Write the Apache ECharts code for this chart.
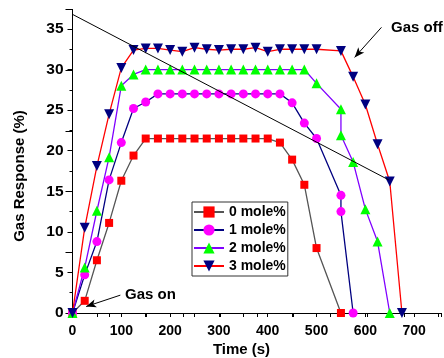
<!DOCTYPE html>
<html>
<head>
<meta charset="utf-8">
<script src="https://cdn.jsdelivr.net/npm/echarts@6/dist/echarts.min.js"></script>
<style>
html,body{margin:0;padding:0;background:#fff;}
#c{width:444px;height:358px;}
</style>
</head>
<body>
<div id="c"></div>
<script>
// Data (time in s, gas response in %)
const seriesNames = ['0 mole%', '1 mole%', '2 mole%', '3 mole%'];
const t0 = [0,25,50,75,100,125,150,175,200,225,250,275,300,325,350,375,400,425,450,475,500,550];
const v0 = [0,1.5,6.5,11.1,16.3,19.4,21.5,21.5,21.5,21.5,21.5,21.5,21.5,21.5,21.5,21.5,21.5,21.0,18.9,15.8,8.0,0];
const t1 = [0,25,50,75,100,125,150,175,200,225,250,275,300,325,350,375,400,425,450,475,500,550,550,575];
const v1 = [0,4.7,8.8,16.4,21.0,25.2,26.0,27,27,27,27,27,27,27,27,27,27,27,25.9,23.4,21.5,14.5,12.5,0];
const t2 = [0,25,50,75,100,125,150,175,200,225,250,275,300,325,350,375,400,425,450,475,500,550,550,575,600,625,650];
const v2 = [0,5.6,12.6,19.2,28.0,29.4,30,30,30,30,30,30,30,30,30,30,30,30,30,30,28.3,25.1,21.9,18.6,12.8,8.8,0];
const t3 = [0,25,50,75,100,125,150,175,200,225,250,275,300,325,350,375,400,425,450,475,500,550,575,600,625,650,675];
const v3 = [0,10.5,18.1,24.5,30.2,32.4,32.6,32.6,32.4,32.2,32.7,32.5,32.4,32.5,32.5,32.7,32.2,32.5,32.5,32.5,32.5,32.3,29.1,25.7,20.8,16.2,0];
// guide line (start / end)
const guideT = [0, 648];
const guideV = [36.8, 16.4];
// annotation arrows [tailT, tailV, headT, headV]
const gasOnArrow = [98, 2.2, 28, 0.8];
const gasOffArrow = [633, 35.2, 578, 31.5];
const xTicks = {min: 0, max: 755, interval: 100};
const yTicks = {min: 0, max: 37.4, interval: 5};

const zip = (t, v) => t.map((x, i) => [x, v[i]]);

const chart = echarts.init(document.getElementById('c'), null, {renderer: 'canvas'});
const FONT = '"Liberation Sans", Arial, sans-serif';

function mk(name, t, v, lineColor, symColor, symbol, size, rot) {
  return {
    name, type: 'line', data: zip(t, v),
    symbol, symbolSize: size, symbolRotate: rot || 0,
    showAllSymbol: true,
    lineStyle: {color: lineColor, width: 1.3},
    itemStyle: {color: symColor, borderWidth: 0},
    z: 3, animation: false
  };
}

const option = {
  animation: false,
  backgroundColor: '#fff',
  grid: {left: 72.5, top: 9.5, width: 377, height: 303.5, containLabel: false},
  xAxis: [{
    type: 'value', min: xTicks.min, max: xTicks.max, interval: xTicks.interval,
    position: 'bottom',
    axisLine: {show: true, onZero: false, lineStyle: {color: '#000', width: 1}},
    axisTick: {show: true, inside: false, length: 4, lineStyle: {color: '#000'}},
    minorTick: {show: true, splitNumber: 2, length: 4, lineStyle: {color: '#000'}},
    splitLine: {show: false},
    axisLabel: {color: '#000', fontSize: 14, fontWeight: 'bold', fontFamily: FONT, margin: 11,
      formatter: v => (v > 700 ? '' : v)}
  }, {
    type: 'value', min: 0, max: 10, interval: 1, position: 'top',
    axisLine: {show: true, lineStyle: {color: '#000', width: 1}},
    axisTick: {show: true, inside: true, length: 4, lineStyle: {color: '#000'}},
    axisLabel: {show: false}, splitLine: {show: false}
  }],
  yAxis: [{
    type: 'value', min: yTicks.min, max: yTicks.max, interval: yTicks.interval,
    axisLine: {show: true, onZero: false, lineStyle: {color: '#000', width: 1}},
    axisTick: {show: true, inside: false, length: 5, lineStyle: {color: '#000'}},
    minorTick: {show: true, splitNumber: 2, length: 3, lineStyle: {color: '#000'}},
    splitLine: {show: false},
    axisLabel: {color: '#000', fontSize: 15.5, fontWeight: 'bold', fontFamily: FONT, margin: 9,
      formatter: v => (v > 35 ? '' : v)}
  }, {
    type: 'value', min: 0, max: 5, interval: 1, position: 'right',
    axisLine: {show: true, lineStyle: {color: '#000', width: 1}},
    axisTick: {show: true, inside: true, length: 7, lineStyle: {color: '#000'}},
    axisLabel: {show: false}, splitLine: {show: false}
  }],
  legend: {
    data: seriesNames,
    orient: 'vertical', left: 192, top: 202,
    padding: [3, 2, 3, 1], itemGap: 4, itemWidth: 30, itemHeight: 14,
    borderColor: '#333', borderWidth: 1, backgroundColor: '#fff',
    textStyle: {color: '#000', fontSize: 14, fontWeight: 'bold', fontFamily: FONT}
  },
  series: [
    mk(seriesNames[0], t0, v0, '#555555', '#ff0000', 'rect', 8),
    mk(seriesNames[1], t1, v1, '#000080', '#ff00ff', 'circle', 9),
    mk(seriesNames[2], t2, v2, '#8000ff', '#00ff00', 'triangle', 10),
    mk(seriesNames[3], t3, v3, '#ff0000', '#000080', 'triangle', 10, 180),
    {
      name: 'guide', type: 'line', data: zip(guideT, guideV), symbol: 'none',
      lineStyle: {color: '#000', width: 1}, z: 4, silent: true,
      markLine: {
        silent: true, symbol: ['none', 'arrow'], symbolSize: [6, 10],
        label: {show: false},
        lineStyle: {color: '#000', width: 1, type: 'solid'},
        data: [
          [{coord: [gasOnArrow[0], gasOnArrow[1]]}, {coord: [gasOnArrow[2], gasOnArrow[3]]}],
          [{coord: [gasOffArrow[0], gasOffArrow[1]]}, {coord: [gasOffArrow[2], gasOffArrow[3]]}]
        ]
      }
    }
  ],
  graphic: [
    {type: 'text', left: 125, top: 287, style: {text: 'Gas on', fill: '#000', font: 'bold 15px ' + FONT}},
    {type: 'text', left: 391, top: 20, style: {text: 'Gas off', fill: '#000', font: 'bold 15px ' + FONT}},
    {type: 'text', x: 241.5, y: 349.5, style: {text: 'Time (s)', fill: '#000', font: 'bold 15px ' + FONT, align: 'center', verticalAlign: 'middle'}},
    {type: 'text', x: 19.5, y: 176, rotation: Math.PI / 2, style: {text: 'Gas Response (%)', fill: '#000', font: 'bold 15px ' + FONT, align: 'center', verticalAlign: 'middle'}}
  ]
};
chart.setOption(option);
</script>
</body>
</html>
